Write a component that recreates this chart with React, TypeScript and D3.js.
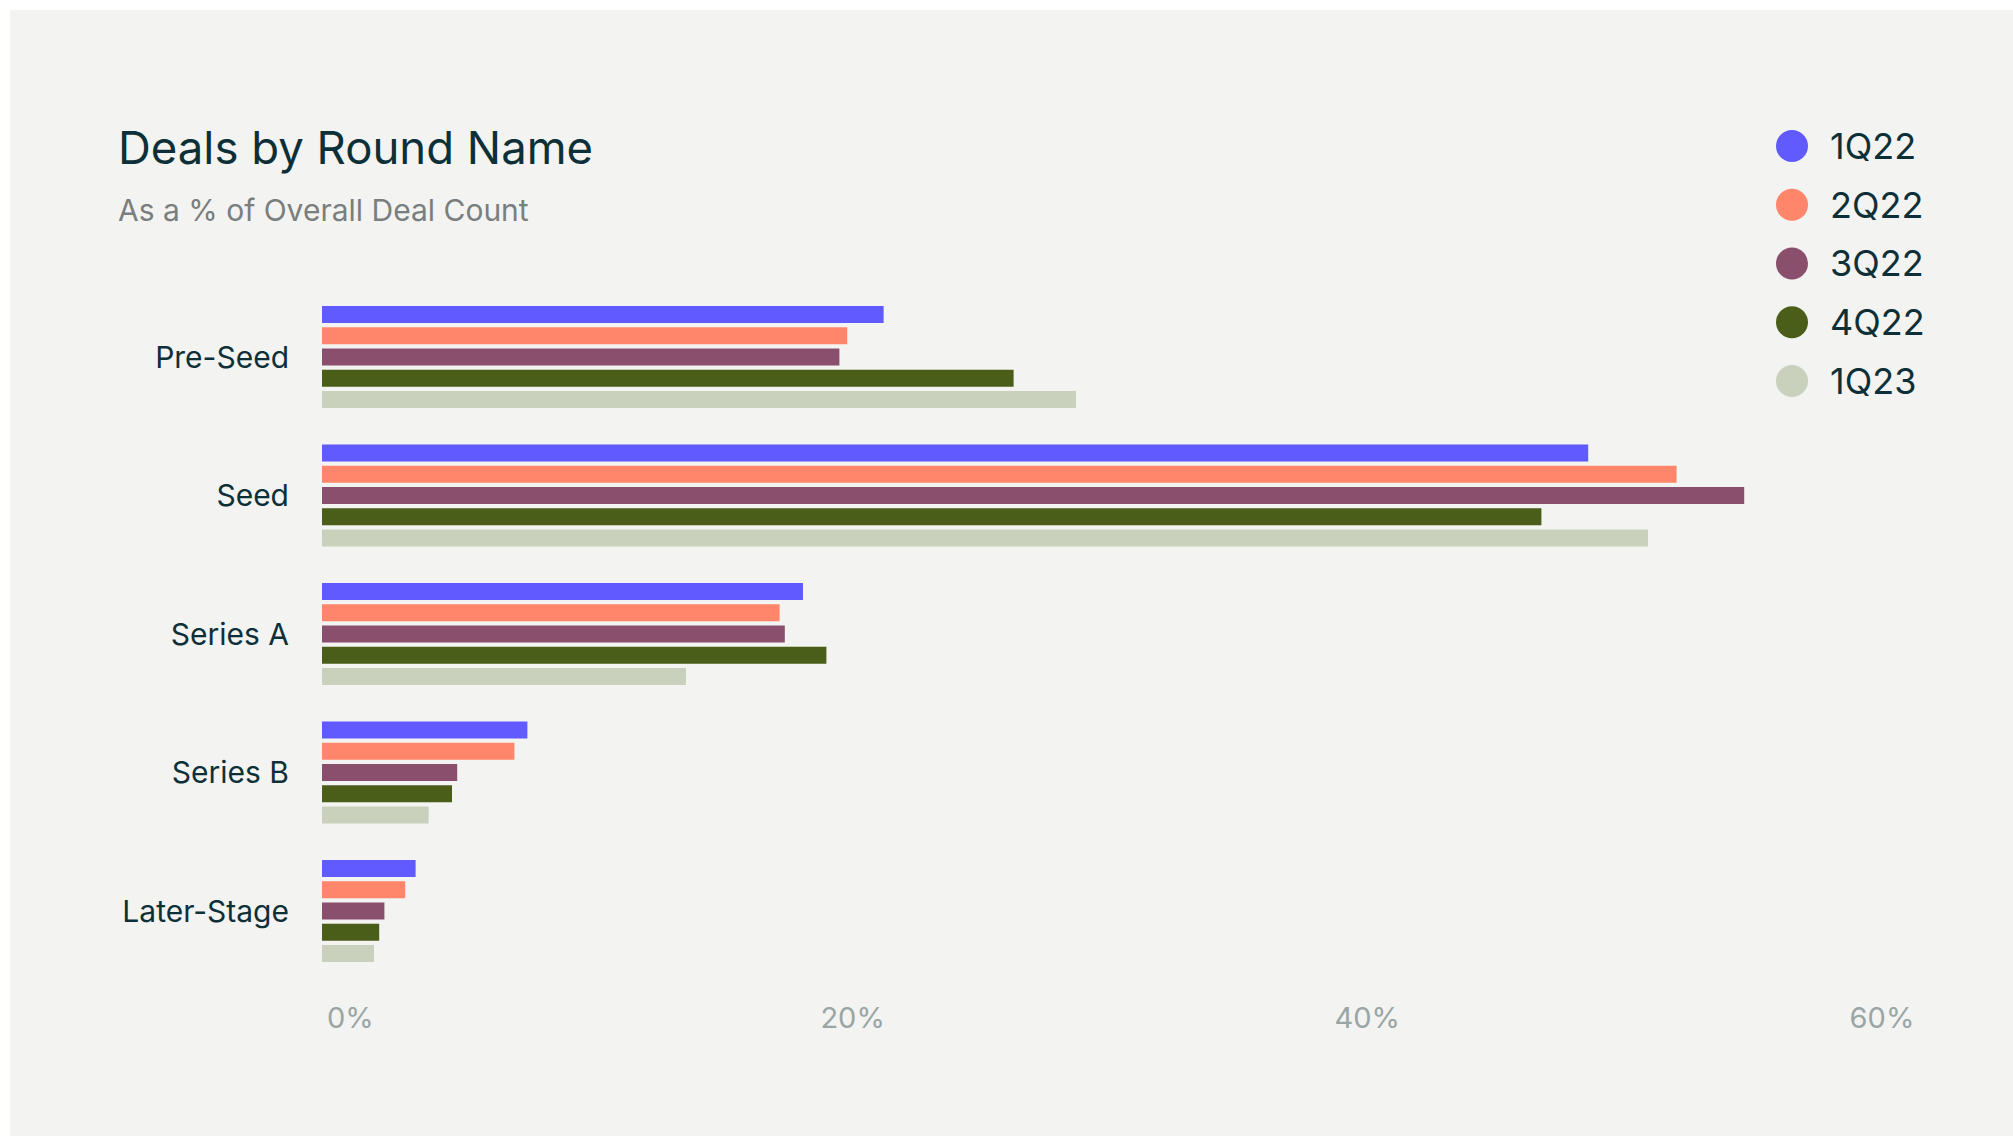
import * as d3 from 'd3';

const rounds = ['Pre-Seed', 'Seed', 'Series A', 'Series B', 'Later-Stage'];
const quarters = ['1Q22', '2Q22', '3Q22', '4Q22', '1Q23'];
const colors = ['#615bff', '#ff866a', '#8a4f6d', '#4a5e19', '#c9d0bc'];

// share of deal count (%) per round, one array per quarter
const q1_22 = [21.6, 48.7, 18.5, 7.9, 3.6];
const q2_22 = [20.2, 52.1, 17.6, 7.4, 3.2];
const q3_22 = [19.9, 54.7, 17.8, 5.2, 2.4];
const q4_22 = [26.6, 46.9, 19.4, 5.0, 2.2];
const q1_23 = [29.0, 51.0, 14.0, 4.1, 2.0];
const series = [q1_22, q2_22, q3_22, q4_22, q1_23];

const xTicks = [0, 20, 40, 60];

const W = 2013;
const H = 1136;
const FONT = 'Inter, "Noto Sans", sans-serif';
const INK = '#0d3038';

export default function App() {
  const x = d3.scaleLinear().domain([0, 60]).range([322, 1882]);
  // tick labels sit on a slightly tighter spread than the bars
  const xLabel = d3.scaleLinear().domain([0, 60]).range([338, 1882]);

  const y = d3.scaleBand<string>()
    .domain(rounds)
    .range([306, 306 + 5 * 138.5 - 36.5])
    .paddingInner(36.5 / 138.5)
    .paddingOuter(0);

  const yInner = d3.scaleBand<string>()
    .domain(quarters)
    .range([0, y.bandwidth()])
    .paddingInner(0.2)
    .paddingOuter(0);

  const legendY = d3.scalePoint<string>().domain(quarters).range([146, 381]);

  return (
    <svg
      width={W}
      height={H}
      style={{ position: 'absolute', left: 0, top: 0, display: 'block' }}
      fontFamily={FONT}
    >
      <rect x={0} y={0} width={W} height={H} fill="#ffffff" />
      <rect x={10} y={10} width={W - 10} height={H - 10} fill="#f3f3f1" />

      <text x={118} y={164} fontSize={45.5} fill={INK}>Deals by Round Name</text>
      <text x={118} y={221} fontSize={30} fill="#7a7e7e">As a % of Overall Deal Count</text>

      {/* bars */}
      {rounds.map((r, ri) => (
        <g key={r} transform={`translate(0,${y(r)})`}>
          <text
            x={289}
            y={y.bandwidth() / 2}
            dy="0.35em"
            textAnchor="end"
            fontSize={30}
            fill={INK}
          >
            {r}
          </text>
          {quarters.map((q, qi) => (
            <rect
              key={q}
              x={x(0)}
              y={yInner(q)}
              width={x(series[qi][ri]) - x(0)}
              height={yInner.bandwidth()}
              fill={colors[qi]}
            />
          ))}
        </g>
      ))}

      {/* x axis labels */}
      {xTicks.map((t, i) => (
        <text
          key={t}
          x={i === 0 ? x(t) + 5 : xLabel(t)}
          y={1028}
          textAnchor={i === 0 ? 'start' : 'middle'}
          fontSize={29}
          fill="#9aa5a5"
        >
          {`${t}%`}
        </text>
      ))}

      {/* legend */}
      {quarters.map((q, i) => (
        <g key={q} transform={`translate(0,${legendY(q)})`}>
          <circle cx={1792} cy={0} r={16} fill={colors[i]} />
          <text x={1830} y={0} dy="0.36em" fontSize={36} fill={INK}>{q}</text>
        </g>
      ))}
    </svg>
  );
}
